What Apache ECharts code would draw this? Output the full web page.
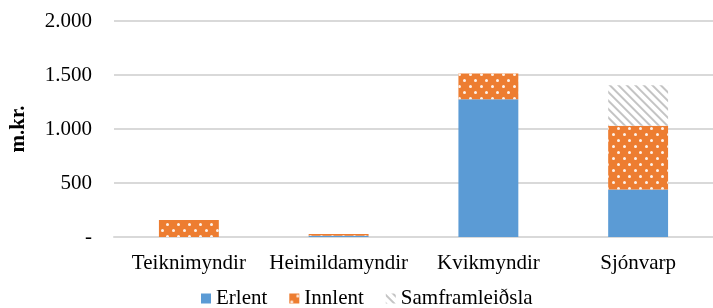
<!DOCTYPE html>
<html>
<head>
<meta charset="utf-8">
<script src="https://cdn.jsdelivr.net/npm/echarts@6/dist/echarts.min.js"></script>
<style>
  html, body { margin: 0; padding: 0; background: #fff; }
  #chart { width: 713px; height: 308px; }
</style>
</head>
<body>
<div id="chart"></div>
<script>
const categories = ['Teiknimyndir', 'Heimildamyndir', 'Kvikmyndir', 'Sjónvarp']
const erlent = [0, 12, 1275, 440]
const innlent = [158, 16, 240, 590]
const samframleidsla = [0, 0, 0, 375]
const yTickLabels = ['-', '500', '1.000', '1.500', '2.000']

const font = 'Liberation Serif'

const chart = echarts.init(document.getElementById('chart'))
chart.setOption({
  animation: false,
  textStyle: { fontFamily: font },
  grid: { top: 21, left: 113, right: -13, bottom: 71 },
  legend: {
    bottom: -6,
    left: 196,
    icon: 'rect',
    itemWidth: 10,
    itemHeight: 10,
    itemGap: 22,
    textStyle: { fontFamily: font, fontSize: 21, color: '#000' },
    data: ['Erlent', 'Innlent', 'Samframleiðsla']
  },
  xAxis: {
    type: 'category',
    data: categories,
    axisTick: { show: false },
    axisLine: { lineStyle: { color: '#d9d9d9', width: 2 } },
    axisLabel: { fontFamily: font, fontSize: 21, color: '#000', margin: 16, interval: 0 }
  },
  yAxis: {
    type: 'value',
    min: 0,
    max: 2000,
    interval: 500,
    name: 'm.kr.',
    nameLocation: 'middle',
    nameGap: 85,
    nameTextStyle: { fontFamily: font, fontSize: 21, fontWeight: 'bold', color: '#000' },
    axisLabel: {
      fontFamily: font, fontSize: 21, color: '#000', margin: 22,
      formatter: (v) => yTickLabels[v / 500]
    },
    splitLine: { lineStyle: { color: '#d9d9d9', width: 2 } }
  },
  series: [
    {
      name: 'Erlent',
      type: 'bar',
      stack: 'total',
      barWidth: '40%',
      data: erlent,
      itemStyle: { color: '#5b9bd5' }
    },
    {
      name: 'Innlent',
      type: 'bar',
      stack: 'total',
      barWidth: '40%',
      data: innlent,
      itemStyle: {
        color: '#ed7d31',
        decal: {
          symbol: 'circle',
          color: 'rgba(255,255,255,0.9)',
          symbolSize: 0.6,
          dashArrayX: [[5, 5.5], [0, 5.5, 5, 0]],
          dashArrayY: [5, 0.5],
          rotation: 0
        }
      }
    },
    {
      name: 'Samframleiðsla',
      type: 'bar',
      stack: 'total',
      barWidth: '40%',
      data: samframleidsla,
      itemStyle: {
        color: '#ffffff',
        decal: {
          symbol: 'rect',
          color: '#c4c4c4',
          symbolSize: 1,
          dashArrayX: [1, 0],
          dashArrayY: [2, 3.3],
          rotation: Math.PI / 4
        }
      }
    }
  ]
})
</script>
</body>
</html>
